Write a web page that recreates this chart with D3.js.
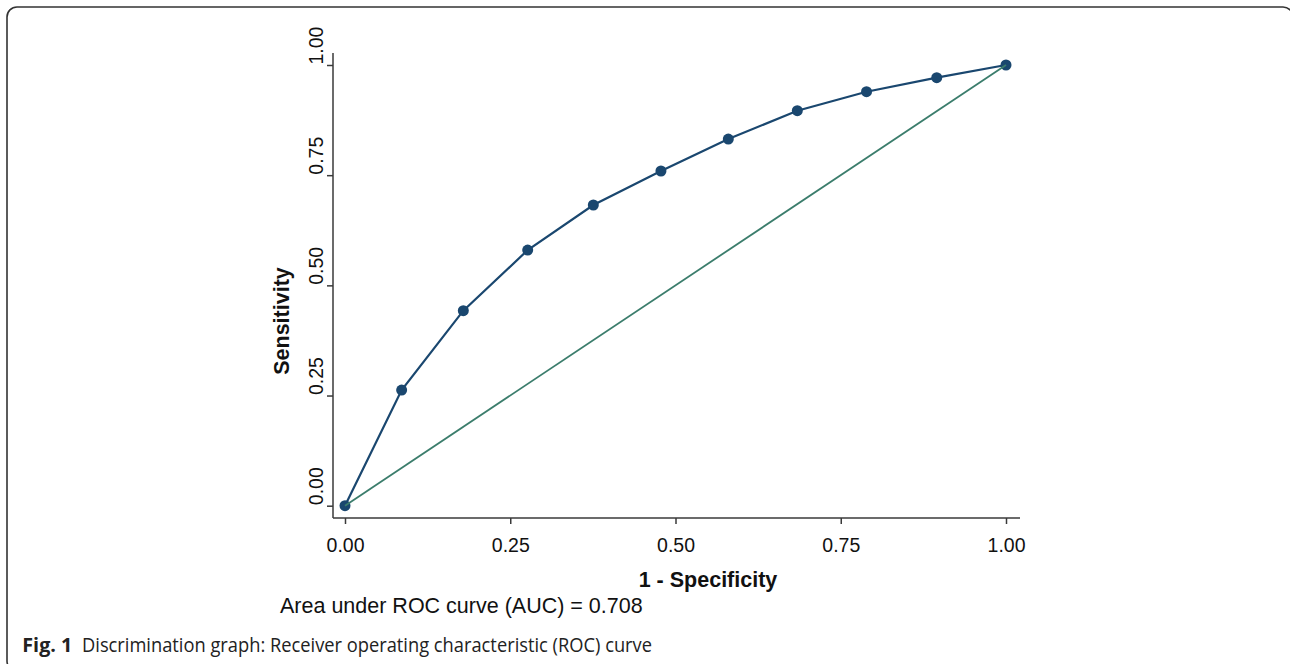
<!DOCTYPE html>
<html>
<head>
<meta charset="utf-8">
<script src="https://cdn.jsdelivr.net/npm/d3@7"></script>
<style>
  body { margin: 0; background: #fff; }
  svg { display: block; }
</style>
</head>
<body>
<div id="chart"></div>
<script>
// ROC points (1 - specificity, sensitivity)
var fpr  = [0, 0.0857, 0.179, 0.2764, 0.3757, 0.478, 0.5799, 0.6843, 0.789, 0.8952, 1];
var sens = [0, 0.2625, 0.4425, 0.580, 0.6823, 0.7595, 0.832, 0.8963, 0.9394, 0.9712, 1];
var diagonal = [0, 1]; // reference line, chance
var tick_values = [0, 0.25, 0.5, 0.75, 1];
var tick_labels = ["0.00", "0.25", "0.50", "0.75", "1.00"];
var auc_text = "Area under ROC curve (AUC) = 0.708";
var x_title = "1 - Specificity";
var y_title = "Sensitivity";
var caption_bold = "Fig. 1";
var caption_text = "Discrimination graph: Receiver operating characteristic (ROC) curve";

const width = 1290;
const height = 664;
const navy = "#1a476f";
const teal = "#3b7d6c";
const axis_color = "#3a3a3a";
const chart_font = "'Liberation Sans', Arial, sans-serif";

var svg = d3.select("#chart")
  .append("svg")
  .attr("width", width)
  .attr("height", height);

// rounded frame round the figure (runs off the right and bottom edge)
svg.append("rect")
  .attr("x", 7)
  .attr("y", 7)
  .attr("width", 1286)
  .attr("height", 664)
  .attr("rx", 10)
  .style("fill", "none")
  .style("stroke", "#333")
  .style("stroke-width", 1.6);

var x = d3.scaleLinear().domain([0, 1]).range([345, 1006]);
var y = d3.scaleLinear().domain([0, 1]).range([505.7, 65]);

const x_axis_y = 518;
const y_axis_x = 333;

// plot region lines (Stata draws them a bit past the data range)
svg.append("line")
  .attr("x1", y_axis_x).attr("x2", 1020)
  .attr("y1", x_axis_y).attr("y2", x_axis_y)
  .style("stroke", axis_color).style("stroke-width", 1.5);
svg.append("line")
  .attr("x1", y_axis_x).attr("x2", y_axis_x)
  .attr("y1", 53).attr("y2", x_axis_y)
  .style("stroke", axis_color).style("stroke-width", 1.5);

// x axis
var gx = svg.append("g")
  .attr("transform", "translate(0," + x_axis_y + ")")
  .call(d3.axisBottom(x)
    .tickValues(tick_values)
    .tickFormat(function(d, i) { return tick_labels[i]; })
    .tickSize(6)
    .tickPadding(14));
gx.select(".domain").remove();
gx.selectAll("line").style("stroke", axis_color).style("stroke-width", 1.5);
gx.selectAll("text")
  .style("font-family", chart_font)
  .style("font-size", "19.5px")
  .style("fill", "#111");

// y axis, labels turned on their side and started at the tick
var gy = svg.append("g")
  .attr("transform", "translate(" + y_axis_x + ",0)")
  .call(d3.axisLeft(y)
    .tickValues(tick_values)
    .tickFormat(function(d, i) { return tick_labels[i]; })
    .tickSize(6));
gy.select(".domain").remove();
gy.selectAll("line").style("stroke", axis_color).style("stroke-width", 1.5);
gy.selectAll("text")
  .attr("transform", "rotate(-90)")
  .attr("x", 1)
  .attr("y", -10.5)
  .attr("dy", 0)
  .attr("text-anchor", "start")
  .style("font-family", chart_font)
  .style("font-size", "19.5px")
  .style("fill", "#111");

// axis titles
svg.append("text")
  .attr("transform", "translate(289,321) rotate(-90)")
  .attr("text-anchor", "middle")
  .style("font-family", chart_font)
  .style("font-weight", "bold")
  .style("font-size", "21.5px")
  .style("fill", "#111")
  .text(y_title);

svg.append("text")
  .attr("x", 708)
  .attr("y", 587)
  .attr("text-anchor", "middle")
  .style("font-family", chart_font)
  .style("font-weight", "bold")
  .style("font-size", "21.5px")
  .style("fill", "#111")
  .text(x_title);

svg.append("text")
  .attr("x", 280)
  .attr("y", 613)
  .style("font-family", chart_font)
  .style("font-size", "21.5px")
  .style("fill", "#111")
  .text(auc_text);

// ROC curve and its markers
var roc = fpr.map(function(d, i) { return [d, sens[i]]; });
var line = d3.line()
  .x(function(d) { return x(d[0]); })
  .y(function(d) { return y(d[1]); });

svg.append("path")
  .datum(roc)
  .attr("d", line)
  .style("fill", "none")
  .style("stroke", navy)
  .style("stroke-width", 2.2);

svg.selectAll("circle.roc")
  .data(roc)
  .enter()
  .append("circle")
  .attr("class", "roc")
  .attr("cx", function(d) { return x(d[0]); })
  .attr("cy", function(d) { return y(d[1]); })
  .attr("r", 5.5)
  .style("fill", navy);

// chance line goes on top, like the original
svg.append("path")
  .datum(diagonal.map(function(d) { return [d, d]; }))
  .attr("d", line)
  .style("fill", "none")
  .style("stroke", teal)
  .style("stroke-width", 1.8);

// figure caption
svg.append("text")
  .attr("x", 22.3)
  .attr("y", 652)
  .attr("textLength", 50)
  .attr("lengthAdjust", "spacingAndGlyphs")
  .style("font-family", "'Open Sans', 'Noto Sans', sans-serif")
  .style("font-weight", "bold")
  .style("font-size", "20px")
  .style("fill", "#222")
  .text(caption_bold);

svg.append("text")
  .attr("x", 82)
  .attr("y", 652)
  .attr("textLength", 570)
  .attr("lengthAdjust", "spacingAndGlyphs")
  .style("font-family", "'Open Sans', 'Noto Sans', sans-serif")
  .style("font-size", "20px")
  .style("fill", "#222")
  .text(caption_text);
</script>
</body>
</html>
